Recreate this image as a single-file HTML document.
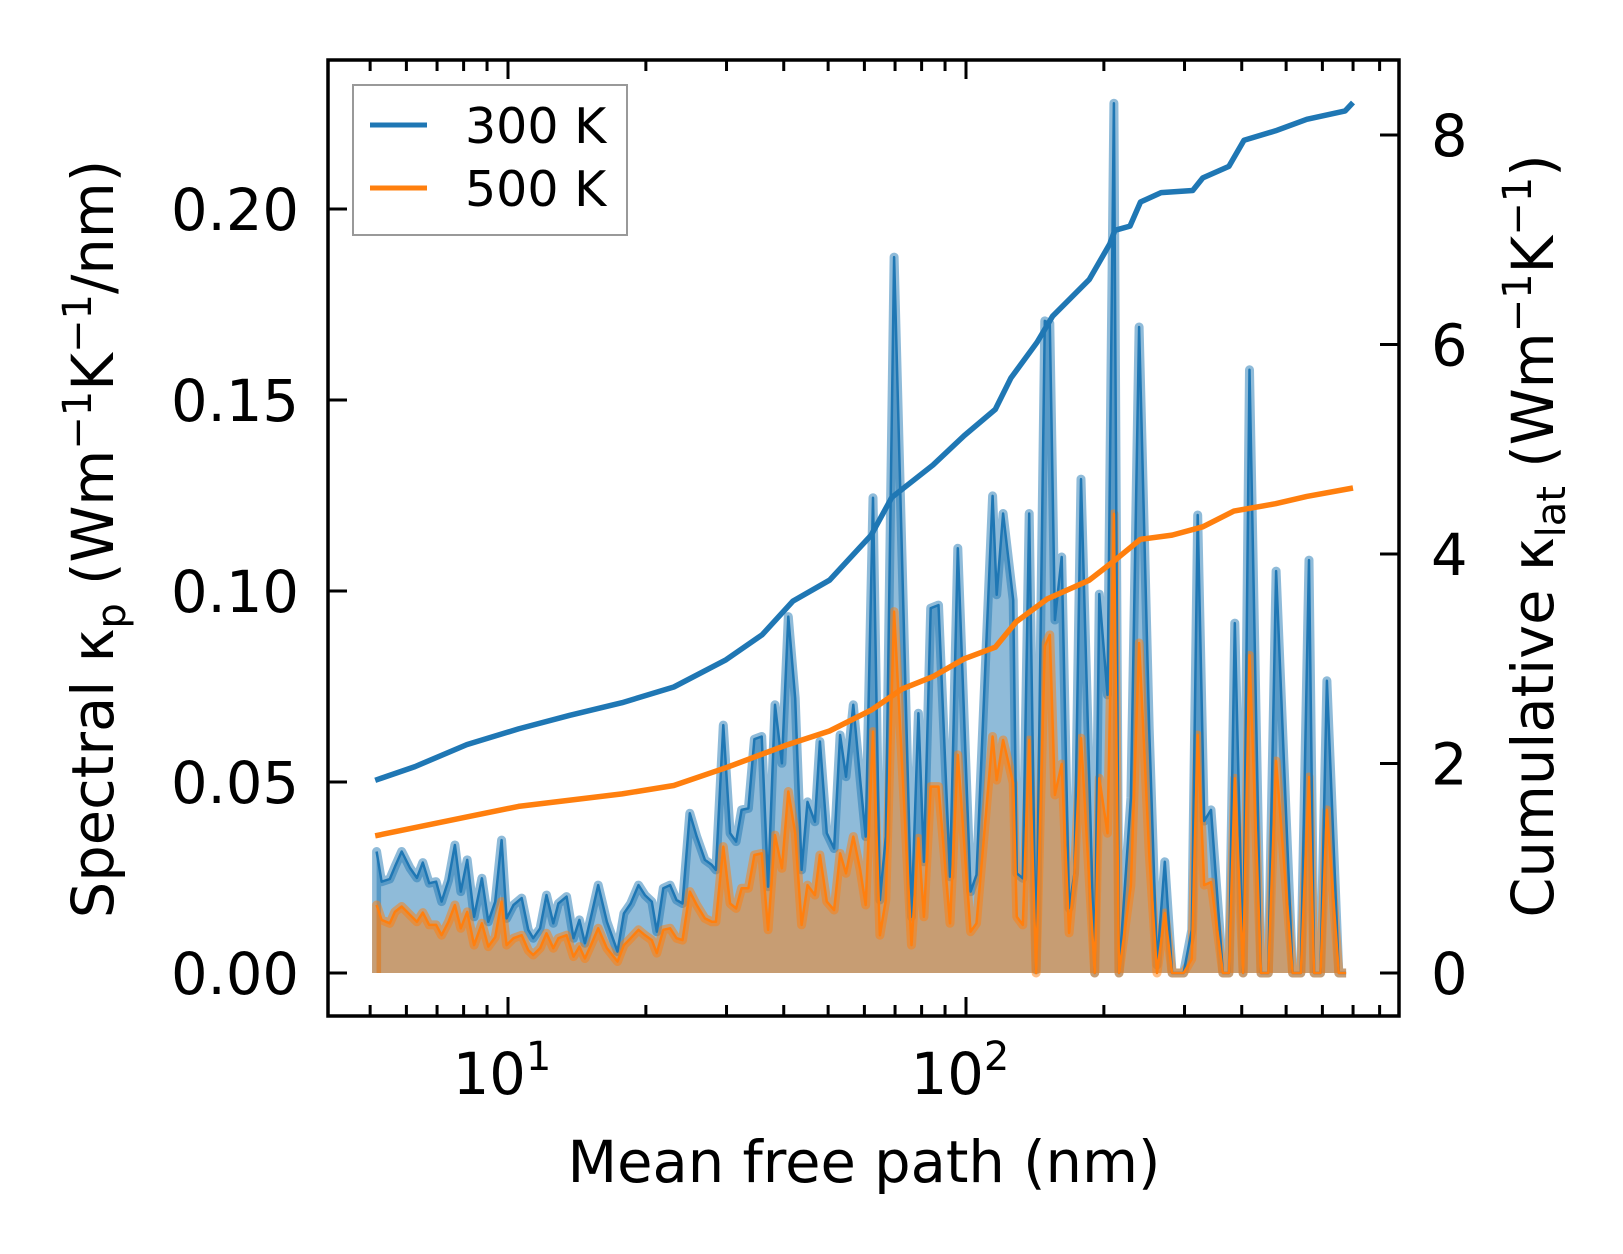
<!DOCTYPE html>
<html><head><meta charset="utf-8"><style>
html,body{margin:0;padding:0;background:#fff;}
svg{display:block;font-family:"DejaVu Sans","Liberation Sans",sans-serif;}
</style></head><body>
<svg id="chart" width="1623" height="1254" viewBox="0 0 1623 1254" xmlns="http://www.w3.org/2000/svg">
<rect width="1623" height="1254" fill="#fff"/>
<g id="plot"></g>
<g id="axes"></g>
</svg>
<script>
// ---- data ----
const logMfp = [0.713,0.724,0.742,0.753,0.768,0.786,0.801,0.814,0.828,0.843,0.855,0.870,0.884,0.897,0.911,0.926,0.943,0.957,0.972,0.986,0.997,1.012,1.030,1.044,1.055,1.070,1.084,1.099,1.110,1.128,1.143,1.156,1.168,1.183,1.197,1.216,1.239,1.253,1.268,1.285,1.299,1.314,1.325,1.339,1.354,1.368,1.381,1.397,1.412,1.430,1.445,1.454,1.470,
1.485,1.498,1.510,1.525,1.538,1.554,1.568,1.583,1.598,1.612,1.627,1.641,1.654,1.670,1.681,1.696,1.712,1.725,1.738,1.754,1.769,1.781,1.797,1.812,1.825,1.843,1.881,1.896,1.908,1.923,1.940,1.965,1.982,2.010,2.023,2.058,2.067,2.081,2.103,2.111,2.124,2.138,2.153,
2.172,2.183,2.194,2.209,2.225,2.237,2.251,2.281,2.291,2.309,2.323,2.334,2.360,2.378,2.400,2.417,2.434,2.450,2.475,2.493,2.506,2.520,2.535,2.561,2.574,2.587,2.605,2.619,2.644,2.660,2.677,2.713,2.731,2.749,2.760,2.774,2.788,2.814,2.830];
const spec300 = [0.0318,0.0239,0.0246,0.0278,0.0318,0.0275,0.0249,0.0289,0.0235,0.0239,0.0187,0.0243,0.0335,0.0213,0.0296,0.0147,0.0248,0.0134,0.0187,0.0348,0.0143,0.0178,0.0196,0.0113,0.0091,0.0117,0.0204,0.0130,0.0182,0.0200,0.0091,0.0139,0.0078,0.0156,0.0230,0.0134,0.0056,0.0156,0.0182,0.0230,0.0204,0.0187,0.0108,0.0222,0.0230,0.0191,0.0182,0.0418,0.0357,0.0296,0.0283,0.0270,0.0649,
0.0366,0.0344,0.0427,0.0431,0.0612,0.0619,0.0226,0.0702,0.0549,0.0933,0.0719,0.0270,0.0448,0.0396,0.0606,0.0366,0.0326,0.0623,0.0514,0.0702,0.0505,0.0357,0.1244,0.0191,0.0357,0.1874,0.0147,0.0680,0.0291,0.0955,0.0963,0.0252,0.1112,0.0213,0.0257,0.1249,0.0990,0.1203,0.0976,0.0261,0.0248,0.1203,0.0008,
0.1707,0.1700,0.0924,0.1089,0.0170,0.0262,0.1293,0,0.0992,0.0728,0.2277,0,0.0458,0.1691,0.0639,0.0021,0.0291,0,0,0.0113,0.1199,0.0398,0.0427,0,0,0.0916,0,0.1579,0,0,0.1052,0,0,0.1081,0,0,0.0765,0,0,0.0772];
const spec500 = [0.0178,0.0139,0.0130,0.0160,0.0174,0.0152,0.0134,0.0158,0.0126,0.0126,0.0099,0.0134,0.0178,0.0117,0.0160,0.0073,0.0130,0.0069,0.0094,0.0187,0.0073,0.0091,0.0099,0.0060,0.0047,0.0065,0.0104,0.0065,0.0091,0.0099,0.0043,0.0069,0.0038,0.0078,0.0117,0.0065,0.0030,0.0073,0.0091,0.0113,0.0099,0.0086,0.0052,0.0113,0.0117,0.0091,0.0086,0.0213,0.0178,0.0143,0.0134,0.0134,0.0331,
0.0182,0.0169,0.0222,0.0222,0.0309,0.0313,0.0113,0.0361,0.0274,0.0475,0.0366,0.0126,0.0230,0.0204,0.0309,0.0187,0.0165,0.0313,0.0261,0.0357,0.0270,0.0178,0.0632,0.0099,0.0191,0.0946,0.0073,0.0353,0.0147,0.0488,0.0488,0.0130,0.0571,0.0108,0.0130,0.0619,0.0505,0.0610,0.0497,0.0147,0.0126,0.0610,0,
0.0856,0.0885,0.0466,0.0547,0.0105,0.0262,0.0615,0,0.0510,0.0366,0.1202,0,0.0230,0.0864,0.0314,0,0.0157,0,0,0.0037,0.0623,0.0230,0.0238,0,0,0.0510,0,0.0832,0,0,0.0555,0,0,0.0513,0,0,0.0427,0,0,0.0435];
const cumLog300 = [0.710,0.797,0.910,1.023,1.135,1.249,1.362,1.476,1.555,1.622,1.702,1.793,1.838,1.928,1.996,2.064,2.098,2.155,2.189,2.269,2.314,2.325,2.358,2.381,2.426,2.495,2.517,2.574,2.607,2.676,2.744,2.828,2.845];
const cum300 = [1.84,1.97,2.18,2.33,2.46,2.58,2.73,2.99,3.23,3.55,3.75,4.18,4.54,4.85,5.13,5.38,5.68,6.02,6.27,6.62,6.96,7.09,7.13,7.36,7.45,7.47,7.59,7.70,7.95,8.04,8.15,8.23,8.31];
const cumLog500 = [0.710,0.910,1.023,1.249,1.362,1.476,1.611,1.702,1.793,1.860,1.928,1.996,2.064,2.109,2.177,2.269,2.325,2.381,2.450,2.517,2.585,2.676,2.744,2.845];
const cum500 = [1.31,1.49,1.59,1.71,1.79,1.96,2.18,2.31,2.51,2.71,2.83,3.00,3.11,3.35,3.57,3.75,3.94,4.14,4.18,4.26,4.41,4.48,4.55,4.63];
const leftTicks = [0,0.05,0.10,0.15,0.20];
const leftTickLabels = ["0.00","0.05","0.10","0.15","0.20"];
const rightTicks = [0,2,4,6,8];
const xMajor = [1,2];

// ---- axes geometry ----
const L=328,R=1399,T=60,B=1016;
const xs = lg => 508 + (lg-1)*458;
const yl = v => 973 - v*3820;
const yr = v => 973 - v*104.75;
const NS='http://www.w3.org/2000/svg';
const plot=document.getElementById('plot'), axes=document.getElementById('axes');
function mk(tag, attrs, parent){const e=document.createElementNS(NS,tag);for(const k in attrs)e.setAttribute(k,attrs[k]);parent.appendChild(e);return e;}

function fillPath(vals){
  let d='M'+xs(logMfp[0])+','+yl(0);
  vals.forEach((v,i)=>{d+=' L'+xs(logMfp[i]).toFixed(1)+','+yl(v).toFixed(1);});
  d+=' L'+xs(logMfp[logMfp.length-1])+','+yl(0)+' Z';return d;}
function linePath(xl,vals,yf){return vals.map((v,i)=>(i?'L':'M')+xs(xl[i]).toFixed(1)+','+yf(v).toFixed(1)).join(' ');}

const f3=mk('path',{d:fillPath(spec300),fill:'rgba(31,119,180,0.5)',stroke:'rgba(31,119,180,0.5)','stroke-width':9,'stroke-linejoin':'round'},plot);


const f5=mk('path',{d:fillPath(spec500),fill:'rgba(255,127,14,0.5)',stroke:'rgba(255,127,14,0.5)','stroke-width':9,'stroke-linejoin':'round'},plot);


const l3=mk('path',{d:linePath(logMfp,spec300,yl),fill:'none',stroke:'#1f77b4','stroke-width':2.5,'stroke-linejoin':'round'},plot);


const l5=mk('path',{d:linePath(logMfp,spec500,yl),fill:'none',stroke:'#ff7f0e','stroke-width':2.5,'stroke-linejoin':'round'},plot);


const c3=mk('path',{d:linePath(cumLog300,cum300,yr),fill:'none',stroke:'#1f77b4','stroke-width':5.5,'stroke-linejoin':'round'},plot);


const c5=mk('path',{d:linePath(cumLog500,cum500,yr),fill:'none',stroke:'#ff7f0e','stroke-width':5.5,'stroke-linejoin':'round'},plot);



// frame
const fr=mk('rect',{x:L,y:T,width:R-L,height:B-T,fill:'none',stroke:'#000','stroke-width':3.5},axes);


// x ticks
for(let dec=0;dec<=2;dec++){
  for(let m=1;m<10;m++){
    const lg=dec+Math.log10(m);
    if(lg<0.62||lg>2.93)continue;
    const x=xs(lg), len=(m===1)?19:11;
    const tb=mk('line',{x1:x,x2:x,y1:B,y2:B-len,stroke:'#000','stroke-width':3},axes);
    
    
    const tt=mk('line',{x1:x,x2:x,y1:T,y2:T+len,stroke:'#000','stroke-width':3},axes);
    
    
  }
}
xMajor.forEach(p=>{
  const t=mk('text',{x:xs(p)-6,y:1094,'font-size':57.5,'text-anchor':'middle'},axes);
  
  
  t.innerHTML='10<tspan dy="-24" font-size="40">'+p+'</tspan>';
});
leftTicks.forEach((v,i)=>{
  const y=yl(v);
  const tk=mk('line',{x1:L,x2:L+19,y1:y,y2:y,stroke:'#000','stroke-width':3},axes);
  
  
  const t=mk('text',{x:299,y:y+21,'font-size':57.5,'text-anchor':'end'},axes);
  
  
  t.textContent=leftTickLabels[i];
});
rightTicks.forEach(v=>{
  const y=yr(v);
  const tk=mk('line',{x1:R,x2:R-19,y1:y,y2:y,stroke:'#000','stroke-width':3},axes);
  
  
  const t=mk('text',{x:1431,y:y+21,'font-size':57.5,'text-anchor':'start'},axes);
  
  
  t.textContent=String(v);
});
</script>
<svg style="position:absolute;left:0;top:0" width="1623" height="1254" viewBox="0 0 1623 1254" xmlns="http://www.w3.org/2000/svg" font-family="DejaVu Sans, Liberation Sans, sans-serif">
<text x="864" y="1182" font-size="57.5" text-anchor="middle">Mean free path (nm)</text>
<text transform="translate(113,539) rotate(-90)" font-size="57.5" text-anchor="middle">Spectral κ<tspan dy="12" font-size="40">p</tspan><tspan dy="-12"> (Wm</tspan><tspan dy="-22" font-size="40">−1</tspan><tspan dy="22">K</tspan><tspan dy="-22" font-size="40">−1</tspan><tspan dy="22">/nm)</tspan></text>
<text transform="translate(1553,536) rotate(-90)" font-size="57.5" text-anchor="middle">Cumulative κ<tspan dy="12" font-size="40">lat</tspan><tspan dy="-12"> (Wm</tspan><tspan dy="-22" font-size="40">−1</tspan><tspan dy="22">K</tspan><tspan dy="-22" font-size="40">−1</tspan><tspan dy="22">)</tspan></text>
<g>
<rect x="353" y="85" width="274" height="150" fill="rgba(255,255,255,0.8)" stroke="#999" stroke-width="2"/>
<line x1="370" x2="427" y1="125" y2="125" stroke="#1f77b4" stroke-width="5"/>
<text x="465" y="143" font-size="49">300 K</text>
<line x1="370" x2="427" y1="188" y2="188" stroke="#ff7f0e" stroke-width="5"/>
<text x="465" y="206" font-size="49">500 K</text>
</g>
</svg>
</body></html>
